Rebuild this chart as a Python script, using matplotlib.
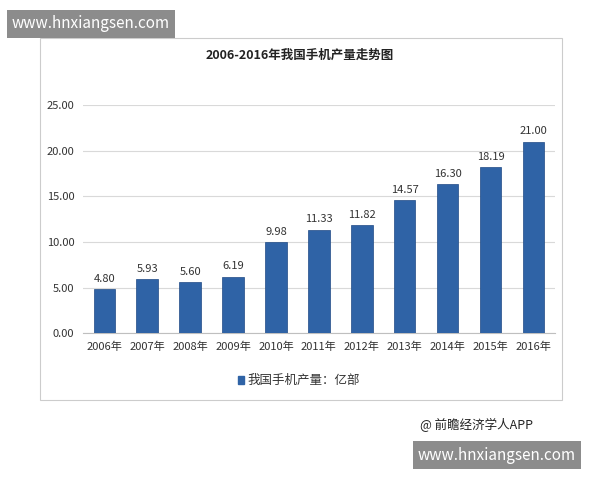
import matplotlib
matplotlib.use("Agg")
import matplotlib.pyplot as plt
from matplotlib.patches import Rectangle

plt.rcParams['font.family'] = ['Noto Sans CJK SC', 'DejaVu Sans']

years = ["2006年","2007年","2008年","2009年","2010年","2011年","2012年","2013年","2014年","2015年","2016年"]
values = [4.80, 5.93, 5.60, 6.19, 9.98, 11.33, 11.82, 14.57, 16.30, 18.19, 21.00]
yticks = [0, 5, 10, 15, 20, 25]

fig = plt.figure(figsize=(6, 4.8), dpi=100)
fig.patches.append(Rectangle((40/600, 1-400/480), 522/600, 362/480, transform=fig.transFigure,
                             fill=False, edgecolor='#cccccc', lw=0.8))
ax = fig.add_axes([0.138, 0.306, 0.787, 0.475])
bars = ax.bar(range(len(years)), values, width=0.5, color='#2f63a6', edgecolor='#1f4a85', lw=0.5, zorder=3)
for i, v in enumerate(values):
    ax.text(i, v + 0.6, f"{v:.2f}", ha='center', va='bottom', fontsize=8, color='#333333')
ax.set_ylim(0, 25)
ax.set_yticks(yticks)
ax.set_yticklabels([f"{t:.2f}" for t in yticks], fontsize=8, color='#333333')
ax.set_xticks(range(len(years)))
ax.set_xticklabels(years, fontsize=8, color='#333333')
ax.set_xlim(-0.5, len(years) - 0.5)
ax.grid(axis='y', color='#d9d9d9', lw=0.8, zorder=0)
for s in ['top', 'right', 'left']:
    ax.spines[s].set_visible(False)
ax.spines['bottom'].set_color('#bfbfbf')
ax.tick_params(length=0, pad=6)

fig.text(0.5, 1-55/480, "2006-2016年我国手机产量走势图", ha='center', va='center', fontsize=9, color='#222222', weight='bold')
fig.patches.append(Rectangle((238/600, 1-384/480), 6/600, 8/480, transform=fig.transFigure, color='#2f63a6'))
fig.text(247/600, 1-380/480, "我国手机产量：亿部", va='center', fontsize=9, color='#333333')
fig.text(420/600, 1-425/480, "@ 前瞻经济学人APP", va='center', fontsize=9, color='#222222')

fig.text(12/600, 1-24/480, "www.hnxiangsen.com", va='center', fontsize=11, color='white',
         bbox=dict(boxstyle='square,pad=0.35', fc='#8c8c8c', ec='none'))
fig.text(418/600, 1-455/480, "www.hnxiangsen.com", va='center', fontsize=11, color='white',
         bbox=dict(boxstyle='square,pad=0.35', fc='#8c8c8c', ec='none'))

fig.savefig("out.png", dpi=100, facecolor='white')
